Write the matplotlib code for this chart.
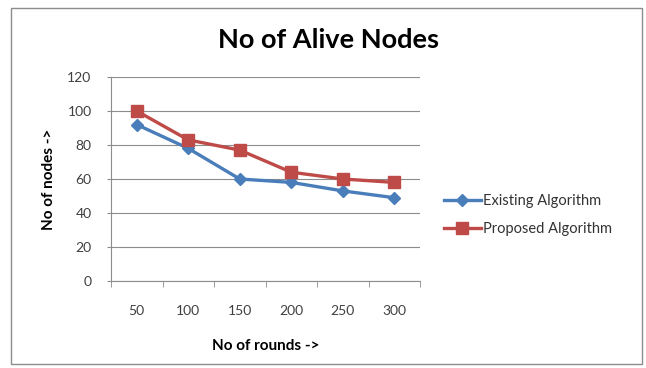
import matplotlib
matplotlib.use("Agg")
import matplotlib.pyplot as plt
from matplotlib.patches import Rectangle
import numpy as np

plt.rcParams['font.family'] = ['Lato', 'DejaVu Sans']

rounds = ["50", "100", "150", "200", "250", "300"]
existing = [92, 78, 60, 58, 53, 49]
proposed = [100, 83, 77, 64, 60, 58]
y_ticks = [0, 20, 40, 60, 80, 100, 120]

W, H = 646, 368
fig = plt.figure(figsize=(W / 100, H / 100), dpi=100)
fig.patch.set_facecolor("white")

# chart frame
fig.patches.append(Rectangle((10.5 / W, 4 / H), 631 / W, 356 / H, transform=fig.transFigure,
                             fill=False, edgecolor="#8c8c8c", linewidth=1.0))

ax = fig.add_axes([111 / W, 1 - 281 / H, 309 / W, 204 / H])
x = np.arange(len(rounds))
ax.plot(x, existing, color="#4a7ebb", linewidth=2.4, marker="D", markersize=6.5,
        label="Existing Algorithm")
ax.plot(x, proposed, color="#be4b48", linewidth=2.4, marker="s", markersize=8.5,
        label="Proposed Algorithm")

ax.set_xlim(-0.5, len(rounds) - 0.5)
ax.set_ylim(0, 120)
ax.set_yticks(y_ticks)
ax.set_xticks(x)
ax.set_xticklabels(rounds)
ax.set_xticks(np.arange(-0.5, len(rounds)), minor=True)
ax.tick_params(axis="x", which="major", length=0, pad=17, labelsize=10, labelcolor="#404040")
ax.tick_params(axis="x", which="minor", length=4, color="#8c8c8c", direction="out")
ax.tick_params(axis="y", length=3, color="#8c8c8c", labelsize=10, labelcolor="#404040", pad=11)
ax.grid(axis="y", color="#8c8c8c", linewidth=0.8)
ax.set_axisbelow(True)
for s in ["top", "right"]:
    ax.spines[s].set_visible(False)
ax.spines["left"].set_color("#8c8c8c")
ax.spines["bottom"].set_color("#8c8c8c")

ax.set_xlabel("No of rounds ->", fontsize=11, fontweight="bold", labelpad=16)
ax.set_ylabel("No of nodes ->", fontsize=11, fontweight="bold", labelpad=8)

fig.text(328 / W, 1 - 40 / H, "No of Alive Nodes", ha="center", va="center",
         fontsize=19.5, fontweight="bold", color="black")

fig.legend(loc="center left", bbox_to_anchor=(431 / W, 1 - 215 / H), frameon=False,
           fontsize=10.5, handlelength=2.5, handletextpad=0.15, labelspacing=1.0,
           labelcolor="#333333")

fig.savefig("out.png", dpi=100)
